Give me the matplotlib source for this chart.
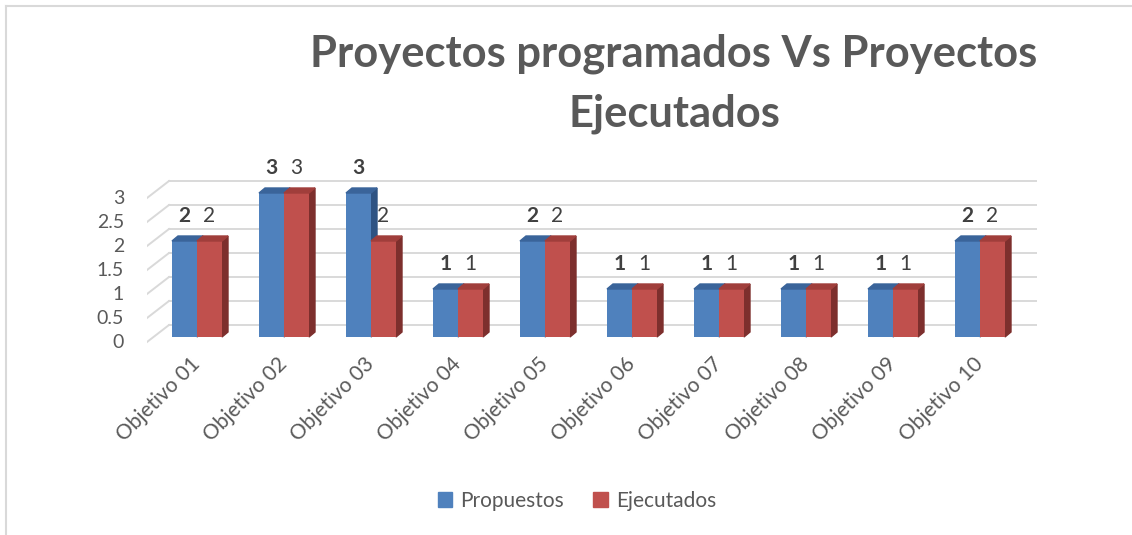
import numpy as np
import matplotlib
matplotlib.use("Agg")
import matplotlib.pyplot as plt
from matplotlib.patches import Polygon, Patch
from matplotlib.lines import Line2D

# data
categorias = ["Objetivo 01", "Objetivo 02", "Objetivo 03", "Objetivo 04", "Objetivo 05",
              "Objetivo 06", "Objetivo 07", "Objetivo 08", "Objetivo 09", "Objetivo 10"]
propuestos = [2, 3, 3, 1, 2, 1, 1, 1, 1, 2]
ejecutados = [2, 3, 2, 1, 2, 1, 1, 1, 1, 2]
yticks = [0, 0.5, 1, 1.5, 2, 2.5, 3]
titulo = ["Proyectos programados Vs Proyectos", "Ejecutados"]

plt.rcParams["font.family"] = ["Lato", "DejaVu Sans"]

W, H, DPI = 1132, 535, 100
fig = plt.figure(figsize=(W / DPI, H / DPI), dpi=DPI)

# axes in pixel box: left 147, right 1037, bottom 345, top 160
L, R, B, T = 147, 1037, 345, 160
ax = fig.add_axes([L / W, 1 - B / H, (R - L) / W, (B - T) / H])
px_x = 87.0   # pixels per category
px_y = 48.0   # pixels per unit value
x0 = (L - 197) / px_x
ax.set_xlim(x0, x0 + (R - L) / px_x)
ax.set_ylim(-(B - 337) / px_y, (337 - T) / px_y)
ax.axis("off")

grid_c = "#d9d9d9"
back_dy = 12 / px_y
back_x = (169 - 197) / px_x
front_dy = -5 / px_y
for v in yticks:
    ax.plot([back_x, ax.get_xlim()[1]], [v + back_dy, v + back_dy], color=grid_c, lw=1.4, zorder=1)
    ax.plot([x0, back_x], [v + front_dy, v + back_dy], color=grid_c, lw=1.4, zorder=1)
    ax.text(x0 - 23 / px_x, v + front_dy, f"{v:g}", ha="right", va="center",
            fontsize=14, color="#595959")

# bars with fake 3d depth
bw = 25 / px_x
ddx = 6 / px_x
ddy = 5 / px_y
x = np.arange(len(categorias))
series = [
    (propuestos, x - bw, "#4F81BD", "#3A649A", "#2E5383", "bold"),
    (ejecutados, x, "#C0504D", "#A03E3B", "#7D2F2D", "normal"),
]
for vals, xs, face, top, side, weight in series:
    ax.bar(xs, vals, width=bw, align="edge", color=face, zorder=3)
    for xi, v in zip(xs, vals):
        ax.add_patch(Polygon([(xi, v), (xi + bw, v), (xi + bw + ddx, v + ddy), (xi + ddx, v + ddy)],
                             closed=True, color=top, zorder=3))
        ax.add_patch(Polygon([(xi + bw, 0), (xi + bw + ddx, ddy), (xi + bw + ddx, v + ddy), (xi + bw, v)],
                             closed=True, color=side, zorder=2))
        ax.text(xi + bw / 2, v + 25 / px_y, f"{v:g}", ha="center", va="center",
                fontsize=15, fontweight=weight, color="#404040", zorder=4)

# category labels
for xi, lab in zip(x, categorias):
    ax.text(xi + 0.0, -24 / px_y, lab, rotation=45, rotation_mode="anchor",
            ha="right", va="center", fontsize=15, color="#595959", clip_on=False)

fig.text(674 / W, 1 - 67 / H, titulo[0], ha="center", va="baseline", fontsize=31.3,
         fontweight="bold", color="#595959")
fig.text(674 / W, 1 - 127 / H, titulo[1], ha="center", va="baseline", fontsize=31.3,
         fontweight="bold", color="#595959")

handles = [Patch(color="#4F81BD", label="Propuestos"), Patch(color="#C0504D", label="Ejecutados")]
fig.legend(handles=handles, loc="center", bbox_to_anchor=(577 / W, 1 - 501 / H), ncol=2,
           frameon=False, fontsize=15, handlelength=0.7, handleheight=0.7,
           handletextpad=0.4, columnspacing=1.4, labelcolor="#595959")

# chart border
fig.add_artist(Line2D([6 / W, 1], [1 - 6 / H, 1 - 6 / H], color="#d9d9d9", lw=1.5))
fig.add_artist(Line2D([6 / W, 6 / W], [0, 1 - 6 / H], color="#d9d9d9", lw=1.5))

fig.savefig("out.png", dpi=DPI)
